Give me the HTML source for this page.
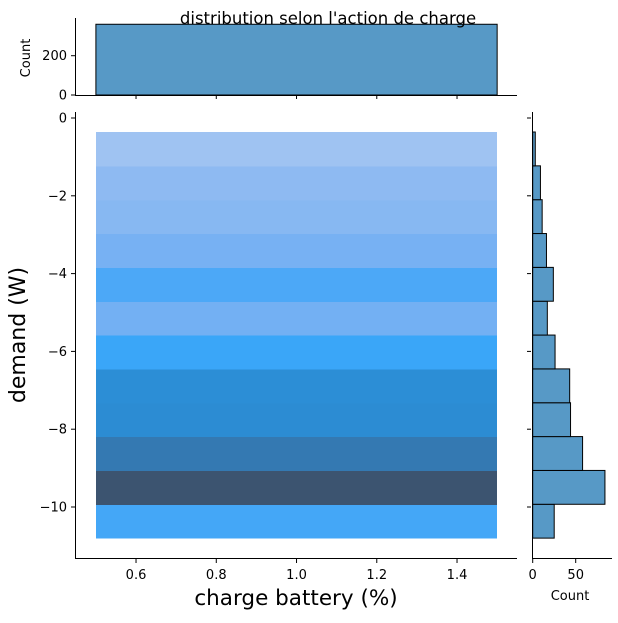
<!DOCTYPE html>
<html><head><meta charset="utf-8"><style>body{margin:0;background:#fff}svg{font-family:"DejaVu Sans","Liberation Sans",sans-serif}</style></head>
<body>
<svg id="c" width="618" height="618"></svg>
<script>
const binEdges=[-10.8,-9.93,-9.06,-8.19,-7.32,-6.45,-5.58,-4.71,-3.84,-2.97,-2.10,-1.23,-0.36];
const binCounts=[25,84,58,44,43,26,17,24,16,11,9,3];
const xTicks=[0.6,0.8,1.0,1.2,1.4];
const yTicks=[0,-2,-4,-6,-8,-10];
const xRange=[0.5,1.5];
const NS="http://www.w3.org/2000/svg",svg=document.getElementById('c');
function el(t,a,p){const e=document.createElementNS(NS,t);for(const k in a)e.setAttribute(k,a[k]);(p||svg).appendChild(e);return e;}
const X=v=>95.9+(v-0.5)*401.25;
const Y=v=>118-v*38.9;
const CX=c=>532.7+c*0.86;
const CY=c=>95-c*0.1965;
const stops=[[0,[168,200,242]],[0.11,[141,186,242]],[0.2,[116,176,243]],[0.29,[74,168,247]],[0.31,[58,166,248]],[0.5,[43,143,216]],[0.7,[52,120,176]],[1,[60,84,112]]];
function col(c){const t=c/Math.max(...binCounts);for(let i=1;i<stops.length;i++){if(t<=stops[i][0]){const a=stops[i-1],b=stops[i],f=(t-a[0])/(b[0]-a[0]);return 'rgb('+a[1].map((v,j)=>Math.round(v+(b[1][j]-v)*f)).join(',')+')';}}return 'rgb(60,84,112)';}
binCounts.forEach((c,i)=>{const r=el('rect',{x:X(xRange[0]),y:Y(binEdges[i+1]),width:X(xRange[1])-X(xRange[0]),height:Y(binEdges[i])-Y(binEdges[i+1])+0.6,fill:col(c),'shape-rendering':'crispEdges'});

});
el('line',{x1:75,y1:558.5,x2:517,y2:558.5,stroke:'#000'});
el('line',{x1:75.5,y1:112,x2:75.5,y2:559,stroke:'#000'});
xTicks.forEach(v=>{el('line',{x1:X(v),x2:X(v),y1:559,y2:563,stroke:'#000'});const t=el('text',{x:X(v),y:579,'text-anchor':'middle','font-size':13});t.textContent=v.toFixed(1);


el('line',{x1:X(v),x2:X(v),y1:95,y2:99,stroke:'#000'});});
yTicks.forEach(v=>{el('line',{x1:71,x2:75,y1:Y(v),y2:Y(v),stroke:'#000'});const t=el('text',{x:67,y:Y(v)+4.5,'text-anchor':'end','font-size':13});t.textContent=v===0?'0':'−'+Math.abs(v);


el('line',{x1:527,x2:531,y1:Y(v),y2:Y(v),stroke:'#000'});});
let t=el('text',{x:296,y:605,'text-anchor':'middle','font-size':21.5});t.textContent='charge battery (%)';

t=el('text',{x:25,y:335,'text-anchor':'middle','font-size':22,transform:'rotate(-90 25 335)'});t.textContent='demand (W)';

const total=binCounts.reduce((a,b)=>a+b,0);
const tb=el('rect',{x:X(xRange[0]),y:CY(total),width:X(xRange[1])-X(xRange[0]),height:95-CY(total),fill:'#5799c6',stroke:'#000','stroke-width':1});

el('line',{x1:75,y1:95.5,x2:517,y2:95.5,stroke:'#000'});
el('line',{x1:75.5,y1:18,x2:75.5,y2:96,stroke:'#000'});
[0,200].forEach(v=>{el('line',{x1:71,x2:75,y1:CY(v),y2:CY(v),stroke:'#000'});const k=el('text',{x:67,y:CY(v)+4.5,'text-anchor':'end','font-size':13});k.textContent=v;});
t=el('text',{x:30,y:58,'text-anchor':'middle','font-size':13,transform:'rotate(-90 30 58)'});t.textContent='Count';

binCounts.forEach((c,i)=>{const r=el('rect',{x:CX(0),y:Y(binEdges[i+1]),width:CX(c)-CX(0),height:Y(binEdges[i])-Y(binEdges[i+1]),fill:'#5799c6',stroke:'#000','stroke-width':1});

});
el('line',{x1:532.5,y1:112,x2:532.5,y2:559,stroke:'#000'});
el('line',{x1:532,y1:558.5,x2:612,y2:558.5,stroke:'#000'});
[0,50].forEach(v=>{el('line',{x1:CX(v),x2:CX(v),y1:559,y2:563,stroke:'#000'});const k=el('text',{x:CX(v),y:579,'text-anchor':'middle','font-size':13});k.textContent=v;});
t=el('text',{x:570,y:600,'text-anchor':'middle','font-size':13});t.textContent='Count';

t=el('text',{x:328,y:24,'text-anchor':'middle','font-size':16.5});t.textContent="distribution selon l'action de charge";

</script>
</body></html>
